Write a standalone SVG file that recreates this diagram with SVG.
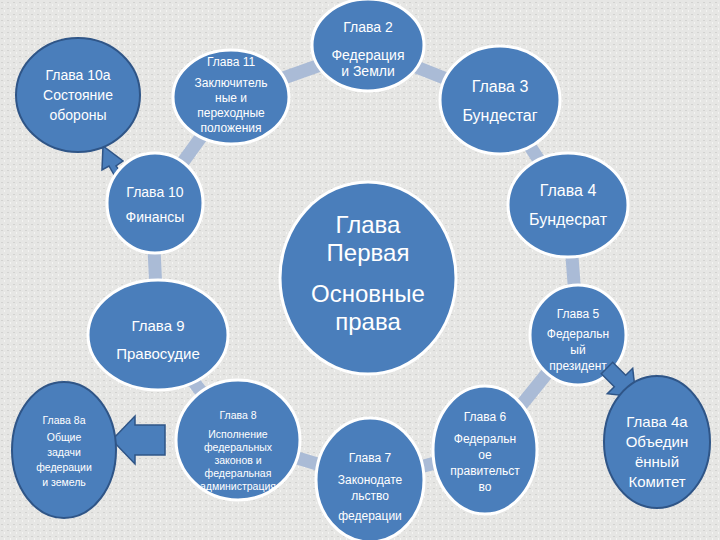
<svg xmlns="http://www.w3.org/2000/svg" width="720" height="540" viewBox="0 0 720 540">
<defs>
<pattern id="tex" width="6" height="6" patternUnits="userSpaceOnUse">
<rect width="6" height="6" fill="#e6e6e4"/><rect x="1" y="2" width="2" height="1" fill="#d2d2d0"/><rect x="4" y="4" width="1" height="2" fill="#f4f4f2"/>
</pattern>
</defs>
<style>
.n{fill:#4a7ebb;stroke:#fff;stroke-width:3}
.d{fill:#4a7ebb;stroke:#2f5587;stroke-width:2}
.t{fill:#fff;font-family:"Liberation Sans",Arial,sans-serif;text-anchor:middle;font-weight:normal}
.ring{fill:none;stroke:#aabbd6;stroke-width:13}
.arr{fill:#4a7ebb;stroke:#2f5587;stroke-width:1.5}
</style>
<rect width="720" height="540" fill="url(#tex)"/>
<g id="connectors">
<polyline class="ring" points="368,48 500,100 568,205 578,335 485,450 370,480 238,440 158,335 152,205 230,97 368,48"/>
<polygon class="arr" points="128,182 116,166 123,161 103,146 102,170 109,166 121,187"/>
<polygon class="arr" points="165,425 135,425 135,416 112,440 135,464 135,455 165,455"/>
</g>
<g id="g10a"><ellipse class="d" cx="78" cy="95" rx="62" ry="57"/><text class="t" font-size="14"><tspan x="78" y="80">Глава 10а</tspan><tspan x="78" y="100">Состояние</tspan><tspan x="78" y="120">обороны</tspan></text></g>
<g id="g11"><ellipse class="n" cx="231" cy="97" rx="58" ry="47"/><text class="t" font-size="12"><tspan x="231" y="66">Глава 11</tspan><tspan x="231" y="87">Заключитель</tspan><tspan x="231" y="102">ные и</tspan><tspan x="231" y="117">переходные</tspan><tspan x="231" y="132">положения</tspan></text></g>
<g id="g2"><ellipse class="n" cx="368" cy="45" rx="56" ry="46"/><text class="t" font-size="14"><tspan x="368" y="32">Глава 2</tspan><tspan x="368" y="60">Федерация</tspan><tspan x="368" y="76">и Земли</tspan></text></g>
<g id="g3"><ellipse class="n" cx="500" cy="100" rx="60" ry="54"/><text class="t" font-size="16"><tspan x="500" y="92">Глава 3</tspan><tspan x="500" y="121">Бундестаг</tspan></text></g>
<g id="g4"><ellipse class="n" cx="568" cy="205" rx="60" ry="52"/><text class="t" font-size="16"><tspan x="568" y="196">Глава 4</tspan><tspan x="568" y="225">Бундесрат</tspan></text></g>
<g id="g1"><ellipse class="n" cx="368" cy="278" rx="88" ry="96"/><text class="t" font-size="24"><tspan x="368" y="233">Глава</tspan><tspan x="368" y="261">Первая</tspan><tspan x="368" y="302">Основные</tspan><tspan x="368" y="330">права</tspan></text></g>
<g id="g5"><ellipse class="n" cx="578" cy="335" rx="48" ry="50"/><text class="t" font-size="12"><tspan x="578" y="318">Глава 5</tspan><tspan x="578" y="338">Федеральн</tspan><tspan x="578" y="354">ый</tspan><tspan x="578" y="370">президент</tspan></text></g>
<polygon class="arr" points="612.7,362.3 625.7,375.3 632.7,368.3 636,397 607.3,393.7 614.3,386.7 601.3,373.7"/>
<g id="g4a"><ellipse class="d" cx="657" cy="442" rx="53" ry="66"/><text class="t" font-size="15"><tspan x="657" y="427">Глава 4а</tspan><tspan x="657" y="447">Объедин</tspan><tspan x="657" y="467">ённый</tspan><tspan x="657" y="487">Комитет</tspan></text></g>
<g id="g6"><ellipse class="n" cx="485" cy="450" rx="52" ry="64"/><text class="t" font-size="12"><tspan x="485" y="421">Глава 6</tspan><tspan x="485" y="443">Федеральн</tspan><tspan x="485" y="459">ое</tspan><tspan x="485" y="475">правительст</tspan><tspan x="485" y="491">во</tspan></text></g>
<g id="g7"><ellipse class="n" cx="370" cy="480" rx="54" ry="62"/><text class="t" font-size="12"><tspan x="370" y="462">Глава 7</tspan><tspan x="370" y="484">Законодате</tspan><tspan x="370" y="500">льство</tspan><tspan x="370" y="520">федерации</tspan></text></g>
<g id="g8"><ellipse class="n" cx="238" cy="440" rx="62" ry="60"/><text class="t" font-size="10.5"><tspan x="238" y="419">Глава 8</tspan><tspan x="238" y="438">Исполнение</tspan><tspan x="238" y="451">федеральных</tspan><tspan x="238" y="464">законов и</tspan><tspan x="238" y="477">федеральная</tspan><tspan x="238" y="490">администрация</tspan></text></g>
<g id="g8a"><ellipse class="d" cx="64" cy="450" rx="52" ry="68"/><text class="t" font-size="10.5"><tspan x="64" y="424">Глава 8а</tspan><tspan x="64" y="441">Общие</tspan><tspan x="64" y="456">задачи</tspan><tspan x="64" y="471">федерации</tspan><tspan x="64" y="486">и земель</tspan></text></g>
<g id="g9"><ellipse class="n" cx="158" cy="335" rx="70" ry="55"/><text class="t" font-size="15"><tspan x="158" y="331">Глава 9</tspan><tspan x="158" y="359">Правосудие</tspan></text></g>
<g id="g10"><ellipse class="n" cx="155" cy="203" rx="48" ry="50"/><text class="t" font-size="14"><tspan x="155" y="197">Глава 10</tspan><tspan x="155" y="222">Финансы</tspan></text></g>
</svg>
